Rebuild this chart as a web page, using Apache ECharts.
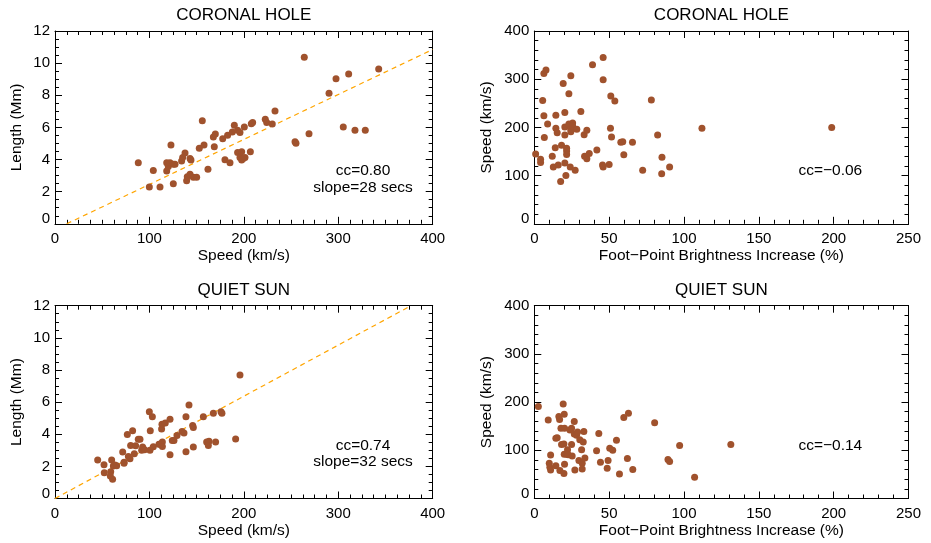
<!DOCTYPE html>
<html>
<head>
<meta charset="utf-8">
<script src="https://cdn.jsdelivr.net/npm/echarts@6/dist/echarts.min.js"></script>
<style>
  html, body { margin: 0; padding: 0; background: #fff; }
  #chart { width: 931px; height: 543px; }
</style>
</head>
<body>
<div id="chart"></div>
<script>
// Coronal hole: speed (km/s) vs loop length (Mm)
const chSpeed = [88.2, 99.9, 104.1, 111.2, 118.3, 118.3, 120.0, 121.8, 122.8, 125.3, 125.3, 127.1, 134.1, 135.2, 137.7, 139.4,
  140.1, 143.0, 144.0, 143.0, 146.5, 150.0, 152.8, 156.0, 157.8, 162.0, 167.7, 168.7, 169.8, 177.6, 180.0, 182.8, 185.3, 187.8,
  189.9, 193.4, 193.4, 195.9, 197.7, 195.9, 197.7, 199.4, 201.2, 200.5, 206.9, 207.9, 209.3, 222.7, 224.2, 230.1, 233.0, 254.2,
  255.2, 264.0, 269.0, 290.2, 297.6, 305.3, 311.0, 317.7, 328.6, 342.8];
const chLength = [3.80, 2.29, 3.31, 2.29, 3.80, 3.29, 3.56, 3.80, 4.90, 3.70, 2.50, 3.70, 3.91, 4.12, 4.41, 2.68,
  2.93, 4.07, 3.97, 3.08, 2.89, 2.89, 4.70, 6.42, 4.90, 3.39, 5.40, 4.80, 5.59, 5.30, 3.99, 5.51, 3.80, 5.71,
  6.13, 4.43, 5.82, 5.69, 4.49, 4.12, 3.97, 4.07, 4.12, 6.02, 4.49, 6.23, 6.31, 6.50, 6.31, 6.21, 7.02, 5.11,
  5.01, 10.36, 5.61, 8.12, 9.03, 6.02, 9.32, 5.82, 5.82, 9.63];

// Coronal hole: foot-point brightness increase (%) vs speed (km/s)
const chBright = [0.9, 4.2, 4.2, 5.6, 6.4, 6.4, 6.7, 7.8, 8.9, 12.0, 12.7, 14.0, 14.4, 14.4, 15.3, 16.0, 17.6, 18.2, 19.3,
  20.4, 20.4, 20.4, 20.4, 21.1, 21.6, 21.6, 21.6, 23.1, 23.1, 24.0, 24.4, 24.4, 24.4, 25.6, 25.6, 27.3, 28.4, 31.1, 33.3,
  33.6, 35.1, 35.1, 36.7, 38.9, 41.8, 45.6, 46.0, 46.0, 46.0, 50.0, 50.9, 51.1, 51.6, 53.8, 57.8, 59.1, 59.8, 65.6, 72.4,
  78.2, 82.4, 85.1, 85.3, 90.4, 112.0, 198.7];
const chSpeed2 = [145, 134, 127, 256, 312, 224, 179, 319, 207, 140, 118, 158, 225, 198, 189, 122, 88, 163, 291,
  231, 201, 184, 126, 100, 157, 151, 144, 270, 207, 118, 307, 196, 191, 209, 203, 111, 196, 233, 185,
  140, 194, 135, 146, 330, 153, 122, 118, 345, 299, 123, 198, 265, 180, 255, 169, 170, 143, 169, 111,
  257, 184, 104, 138, 118, 198, 200];

// Quiet sun: speed (km/s) vs loop length (Mm)
const qsSpeed = [45.2, 51.9, 52.2, 59.0, 58.6, 60.0, 61.0, 61.8, 63.5, 65.3, 71.7, 73.1, 73.1, 76.6, 77.7, 79.4, 80.1,
  82.2, 84.0, 85.4, 88.2, 90.0, 91.8, 92.8, 94.9, 99.9, 100.6, 100.9, 103.1, 104.1, 110.1, 111.2, 112.9, 113.3, 113.7,
  113.7, 116.8, 121.8, 121.8, 124.2, 126.0, 129.2, 134.5, 136.6, 138.7, 138.7, 141.9, 145.8, 146.5, 146.5, 157.1,
  160.6, 163.1, 162.4, 167.7, 170.1, 175.8, 176.8, 191.3, 195.9];
const qsLength = [2.39, 2.10, 1.61, 1.67, 1.40, 2.39, 1.20, 2.02, 2.08, 2.04, 2.89, 2.25, 2.19, 3.98, 2.62, 2.48, 3.30,
  4.21, 2.79, 3.28, 3.69, 3.69, 3.01, 3.20, 3.03, 5.40, 3.01, 4.21, 5.09, 3.22, 3.38, 3.38, 4.33, 4.62, 3.51,
  3.24, 4.70, 4.93, 2.72, 3.61, 3.61, 3.92, 4.17, 4.08, 5.09, 2.91, 5.82, 4.54, 4.42, 3.20, 5.09,
  3.51, 3.57, 3.30, 5.30, 3.51, 5.40, 5.30, 3.71, 7.69];

// Quiet sun: foot-point brightness increase (%) vs speed (km/s)
const qsBright = [2.7, 9.3, 10.0, 10.4, 10.9, 10.9, 14.4, 14.4, 15.3, 16.4, 16.9, 17.1, 17.8, 18.2, 19.3, 19.8, 19.8,
  20.0, 20.0, 20.2, 20.2, 21.6, 22.2, 22.7, 23.8, 24.9, 24.9, 25.3, 26.7, 26.7, 27.1, 28.2, 28.9, 29.8, 30.4, 31.6,
  32.0, 32.0, 32.7, 33.1, 33.8, 41.6, 43.1, 44.2, 48.7, 49.3, 50.4, 52.4, 54.9, 56.9, 59.8, 62.2, 62.9, 65.8, 80.4,
  89.3, 90.4, 97.1, 107.1, 131.3];
const qsSpeed2 = [191, 163, 73, 65, 59, 90, 68, 125, 126, 170, 164, 58, 146, 112, 196, 52, 113,
  175, 92, 146, 71, 92, 101, 91, 142, 146, 112, 88, 160, 134, 59, 131, 138, 79, 122, 101,
  73, 61, 117, 139, 84, 99, 135, 75, 63, 79, 104, 100, 121, 51, 168, 83, 177, 60, 157,
  81, 77, 110, 44, 112];

// Linear fits of length against speed (end points, in data units)
const chFitSpeed = [12.4, 400];
const chFitLength = [0, 10.85];
const qsFitSpeed = [0, 377];
const qsFitLength = [0, 12];

const panelTitles = ['CORONAL HOLE', 'CORONAL HOLE', 'QUIET SUN', 'QUIET SUN'];
const ccLabels = ['cc=0.80', 'cc=\u22120.06', 'cc=0.74', 'cc=\u22120.14'];
const slopeLabels = ['slope=28 secs', '', 'slope=32 secs', ''];
const speedName = 'Speed (km/s)';
const lengthName = 'Length (Mm)';
const brightName = 'Foot\u2212Point Brightness Increase (%)';

const FONT = 'Liberation Sans, Arial, Helvetica, sans-serif';
const DOT = '#a0522d';
const FIT = '#ffa500';

const chart = echarts.init(document.getElementById('chart'), null, { renderer: 'canvas' });

// panel boxes in pixels: left, top, width, height
const boxes = [
  { left: 55, top: 31, width: 377.7, height: 192.8 },
  { left: 534.3, top: 31, width: 374.2, height: 192.8 },
  { left: 55, top: 305.7, width: 377.7, height: 192.8 },
  { left: 534.3, top: 305.7, width: 374.2, height: 192.8 }
];

// axis settings for each panel: [min, max, interval, minor splits, name]
const xSpec = [
  [0, 400, 100, 8, speedName],
  [0, 250, 50, 5, brightName],
  [0, 400, 100, 8, speedName],
  [0, 250, 50, 5, brightName]
];
const ySpec = [
  [0, 12, 2, 4, lengthName, 30],
  [0, 400, 100, 5, speedName, 40],
  [0, 12, 2, 4, lengthName, 30],
  [0, 400, 100, 5, speedName, 40]
];

const black = '#000';
function axisCommon(spec, showLabels) {
  return {
    type: 'value',
    min: spec[0], max: spec[1], interval: spec[2],
    axisLine: { show: true, onZero: false, lineStyle: { color: black, width: 1 } },
    axisTick: { show: true, inside: true, length: 7, lineStyle: { color: black, width: 1 } },
    minorTick: { show: true, splitNumber: spec[3], length: 4, lineStyle: { color: black, width: 1 } },
    splitLine: { show: false },
    minorSplitLine: { show: false },
    axisLabel: { show: showLabels, color: black, fontFamily: FONT, fontSize: 15 },
    silent: true
  };
}

const grids = [], xAxes = [], yAxes = [], series = [], graphics = [];
boxes.forEach((b, i) => {
  grids.push({ left: b.left, top: b.top, width: b.width, height: b.height, containLabel: false });
  const xb = axisCommon(xSpec[i], true);
  Object.assign(xb, {
    gridIndex: i, position: 'bottom', name: xSpec[i][4], nameLocation: 'middle', nameGap: 23,
    nameTextStyle: { color: black, fontFamily: FONT, fontSize: 15.5, verticalAlign: 'top' }
  });
  xb.axisLabel.margin = 8;
  const xt = axisCommon(xSpec[i], false);
  Object.assign(xt, { gridIndex: i, position: 'top' });
  xAxes.push(xb, xt);

  const yl = axisCommon(ySpec[i], true);
  Object.assign(yl, {
    gridIndex: i, position: 'left', name: ySpec[i][4], nameLocation: 'middle', nameGap: ySpec[i][5],
    nameRotate: 90, nameTextStyle: { color: black, fontFamily: FONT, fontSize: 15.5 }
  });
  yl.axisLabel.margin = 5;
  // the zero label sits a little above the lower frame edge
  yl.axisLabel.formatter = v => (v === 0 ? '{z|0}' : String(v));
  yl.axisLabel.rich = { z: { color: black, fontFamily: FONT, fontSize: 15, padding: [0, 0, 9, 0] } };
  const yr = axisCommon(ySpec[i], false);
  Object.assign(yr, { gridIndex: i, position: 'right' });
  yAxes.push(yl, yr);

  graphics.push({
    type: 'text', x: b.left + b.width / 2, y: b.top - 15.5,
    style: { text: panelTitles[i], fill: black, font: '17px ' + FONT, textAlign: 'center', textVerticalAlign: 'middle' },
    silent: true
  });
  const cx = b.left + (i % 2 === 0 ? 308 : 296);
  graphics.push({
    type: 'text', x: cx, y: b.top + 139.7,
    style: { text: ccLabels[i], fill: black, font: '15.5px ' + FONT, textAlign: 'center', textVerticalAlign: 'middle' },
    silent: true
  });
  if (slopeLabels[i]) {
    graphics.push({
      type: 'text', x: cx, y: b.top + 156.3,
      style: { text: slopeLabels[i], fill: black, font: '15.5px ' + FONT, textAlign: 'center', textVerticalAlign: 'middle' },
      silent: true
    });
  }
});

function pairs(xs, ys) { return xs.map((v, k) => [v, ys[k]]); }

const scatterSets = [
  pairs(chSpeed, chLength),
  pairs(chBright, chSpeed2),
  pairs(qsSpeed, qsLength),
  pairs(qsBright, qsSpeed2)
];
const fitSets = [pairs(chFitSpeed, chFitLength), null, pairs(qsFitSpeed, qsFitLength), null];

scatterSets.forEach((data, i) => {
  if (fitSets[i]) {
    series.push({
      type: 'line', xAxisIndex: 2 * i, yAxisIndex: 2 * i, data: fitSets[i],
      symbol: 'none', clip: true, silent: true, z: 1,
      lineStyle: { color: FIT, width: 1.2, type: [5, 4] }
    });
  }
  series.push({
    type: 'scatter', xAxisIndex: 2 * i, yAxisIndex: 2 * i, data: data,
    symbol: 'circle', symbolSize: 7, silent: true, z: 2,
    itemStyle: { color: DOT, opacity: 1 }
  });
});

chart.setOption({
  animation: false,
  backgroundColor: '#fff',
  grid: grids,
  xAxis: xAxes,
  yAxis: yAxes,
  series: series,
  graphic: graphics
});
</script>
</body>
</html>
